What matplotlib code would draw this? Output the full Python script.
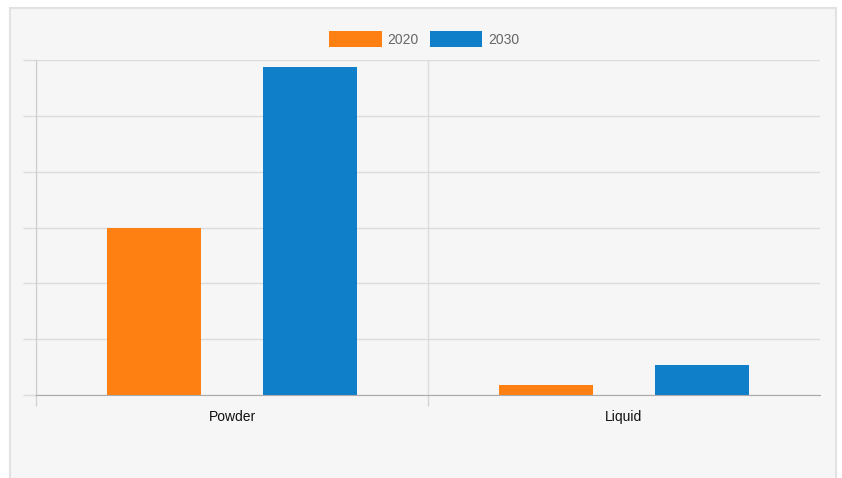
import matplotlib
matplotlib.use("Agg")
import matplotlib.pyplot as plt
from matplotlib.patches import Rectangle
import numpy as np

categories = ["Powder", "Liquid"]
series_names = ["2020", "2030"]
values_2020 = [3.0, 0.18]
values_2030 = [5.87, 0.54]
colors = ["#FF8012", "#0F7FC9"]

plt.rcParams['font.family'] = ['Liberation Sans', 'DejaVu Sans']

W, H = 842, 478
fig = plt.figure(figsize=(W / 100, H / 100), dpi=100)
fig.patch.set_facecolor("white")

bg = fig.add_axes([0, 0, 1, 1], zorder=-10)
bg.set_xlim(0, W)
bg.set_ylim(H, 0)
bg.axis("off")
bg.add_patch(Rectangle((10, 8), 826, 500, facecolor="#F6F6F6",
                       edgecolor="#E2E2E2", linewidth=1.5))

ax = fig.add_axes([36 / W, 83 / H, (820 - 36) / W, (395 - 60) / H], zorder=1)
ax.set_facecolor("none")

x = np.arange(len(categories))
bw = 0.24
ax.bar(x - 0.2, values_2020, width=bw, color=colors[0], label=series_names[0], zorder=3)
ax.bar(x + 0.2, values_2030, width=bw, color=colors[1], label=series_names[1], zorder=3)

ax.set_xlim(-0.5, 1.5)
ax.set_ylim(0, 6)
ax.set_yticks(np.arange(0, 7, 1))
ax.set_yticklabels([])
ax.grid(axis="y", color="#DCDCDC", linewidth=1, zorder=0)
ax.tick_params(axis="y", length=9.5, color="#DCDCDC", width=1)

ax.set_xticks(x)
ax.set_xticklabels(categories, fontsize=10, color="#111111")
ax.tick_params(axis="x", which="major", length=0, pad=11)
ax.set_xticks([-0.5, 0.5], minor=True)
ax.tick_params(axis="x", which="minor", length=8, color="#D4D4D4", width=1)
ax.grid(axis="x", which="minor", color="#DCDCDC", linewidth=1, zorder=0)
ax.set_axisbelow(True)

for s in ["top", "right"]:
    ax.spines[s].set_visible(False)
ax.spines["left"].set_color("#CCCCCC")
ax.spines["bottom"].set_color("#AAAAAA")
ax.spines["bottom"].set_zorder(4)

leg = fig.legend(loc="center", bbox_to_anchor=(424 / W, 1 - 39 / H), ncol=2,
                 frameon=False, fontsize=10, handlelength=3.8, handleheight=1.3,
                 handletextpad=0.4, columnspacing=0.8)
for t in leg.get_texts():
    t.set_color("#666666")

fig.savefig("out.png", dpi=100, facecolor=fig.get_facecolor())
